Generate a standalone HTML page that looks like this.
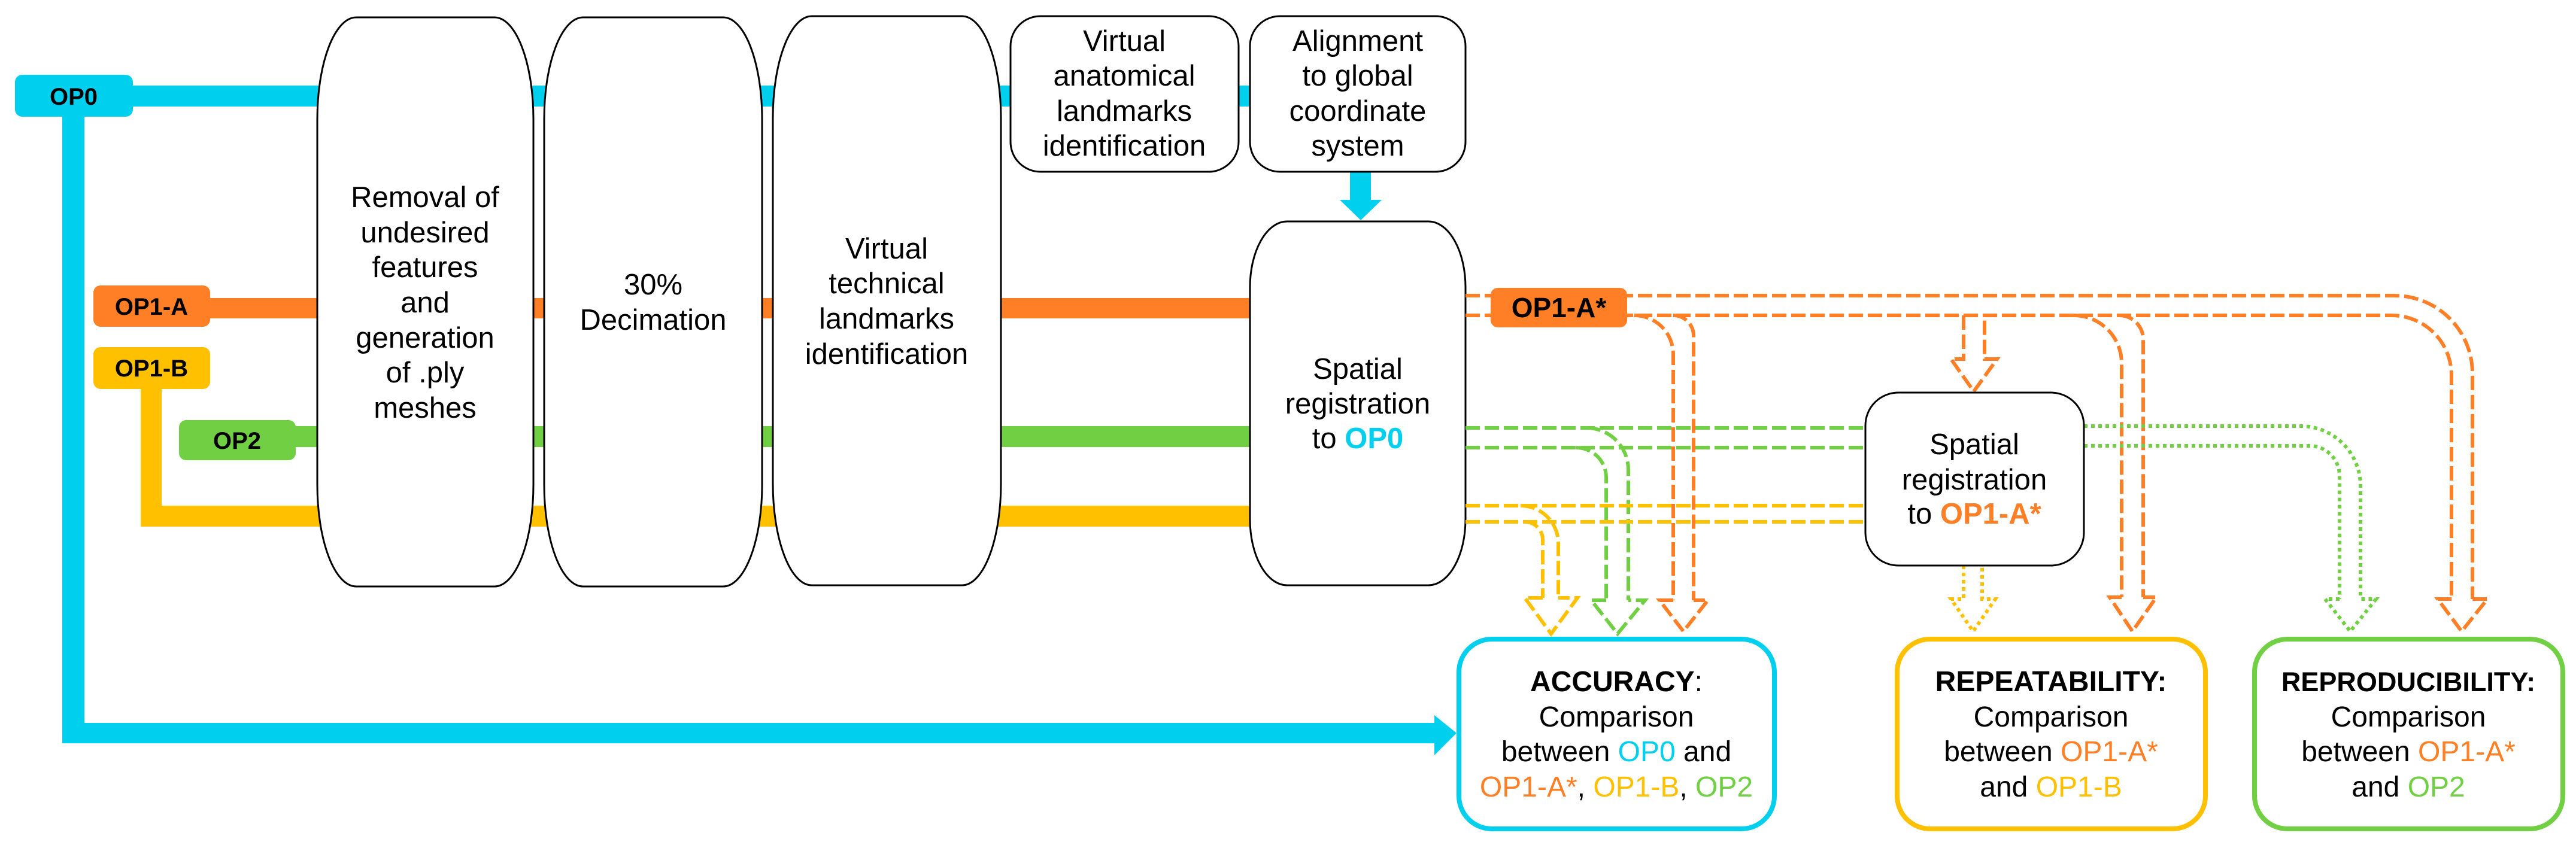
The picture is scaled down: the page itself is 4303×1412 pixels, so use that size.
<!DOCTYPE html>
<html><head><meta charset="utf-8"><style>
html,body{margin:0;padding:0;background:#fff;}
svg{display:block;}
text{font-family:"Liberation Sans",sans-serif;}
</style></head><body>
<svg width="4303" height="1412" viewBox="0 0 4303 1412" xmlns="http://www.w3.org/2000/svg">
<!-- solid thick lines -->
<g>
<rect x="104" y="160" width="37" height="1082" fill="#00D0EE"/>
<rect x="104" y="1208" width="2300" height="34" fill="#00D0EE"/>
<polygon points="2396,1195 2433,1225 2396,1262" fill="#00D0EE"/>
<rect x="200" y="143" width="1888" height="35" fill="#00D0EE"/>
<rect x="300" y="498" width="1788" height="34" fill="#FF7F27"/>
<rect x="235" y="620" width="35" height="260" fill="#FFC000"/>
<rect x="235" y="845" width="1853" height="35" fill="#FFC000"/>
<rect x="450" y="712" width="1638" height="35" fill="#70CF43"/>
<rect x="2255" y="285" width="35" height="55" fill="#00D0EE"/>
<polygon points="2238,334 2308,334 2273,368" fill="#00D0EE"/>
</g>
<!-- labels -->
<rect x="25" y="125" width="197" height="70" rx="12" fill="#00D0EE"/>
<text x="123" y="175" font-size="40" font-weight="bold" text-anchor="middle">OP0</text>
<rect x="156" y="477" width="195" height="69" rx="12" fill="#FF7F27"/>
<text x="253" y="526" font-size="40" font-weight="bold" text-anchor="middle">OP1-A</text>
<rect x="156" y="580" width="195" height="70" rx="12" fill="#FFC000"/>
<text x="253" y="629" font-size="40" font-weight="bold" text-anchor="middle">OP1-B</text>
<rect x="299" y="702" width="195" height="67" rx="12" fill="#70CF43"/>
<text x="396" y="750" font-size="40" font-weight="bold" text-anchor="middle">OP2</text>

<!-- process boxes -->
<g fill="#fff" stroke="#000" stroke-width="3">
<rect x="530" y="29" width="361" height="951" rx="65" ry="170"/>
<rect x="909" y="29" width="364" height="951" rx="65" ry="170"/>
<rect x="1291" y="27" width="381" height="951" rx="65" ry="170"/>
<rect x="1688" y="27" width="381" height="260" rx="50" ry="50"/>
<rect x="2088" y="27" width="360" height="260" rx="50" ry="50"/>
<rect x="2088" y="370" width="360" height="608" rx="62" ry="110"/>
</g>
<g font-size="49" text-anchor="middle">
<text x="710" y="346">Removal of</text>
<text x="710" y="405">undesired</text>
<text x="710" y="463">features</text>
<text x="710" y="522">and</text>
<text x="710" y="581">generation</text>
<text x="710" y="639">of .ply</text>
<text x="710" y="698">meshes</text>
<text x="1091" y="492">30%</text>
<text x="1091" y="551">Decimation</text>
<text x="1481" y="432">Virtual</text>
<text x="1481" y="490">technical</text>
<text x="1481" y="549">landmarks</text>
<text x="1481" y="608">identification</text>
<text x="1878" y="85">Virtual</text>
<text x="1878" y="143">anatomical</text>
<text x="1878" y="202">landmarks</text>
<text x="1878" y="260">identification</text>
<text x="2268" y="85">Alignment</text>
<text x="2268" y="143">to global</text>
<text x="2268" y="202">coordinate</text>
<text x="2268" y="260">system</text>
<text x="2268" y="633">Spatial</text>
<text x="2268" y="691">registration</text>
<text x="2268" y="749">to <tspan fill="#00D0EE" font-weight="bold">OP0</tspan></text>
</g>

<!-- dashed orange -->
<g fill="none" stroke="#FF7F27" stroke-width="6" stroke-dasharray="24 8">
<path d="M2448 494 H4000 A130 130 0 0 1 4130 624 V1001"/>
<path d="M2448 527 H3995 A100 100 0 0 1 4095 627 V1001"/>
<path d="M2730 527 A65 65 0 0 1 2795 592 V1003"/>
<path d="M2795 527 A34 34 0 0 1 2829 561 V1003"/>
<path d="M2795 1003 H2772 L2812 1055 L2853 1003 H2829"/>
<path d="M3280 527 V600 H3259 L3297 654 L3336 600 H3315 V527"/>
<path d="M3464 527 A80 80 0 0 1 3544 607 V998"/>
<path d="M3540 527 A40 40 0 0 1 3580 567 V998"/>
<path d="M3544 998 H3524 L3562 1055 L3602 998 H3580"/>
<path d="M4095 1001 H4072 L4112 1055 L4155 1001 H4130"/>
</g>
<rect x="2490" y="481" width="228" height="66" rx="12" fill="#FF7F27"/>
<text x="2604" y="530" font-size="46" font-weight="bold" text-anchor="middle">OP1-A*</text>

<!-- dashed green -->
<g fill="none" stroke="#70CF43" stroke-width="6" stroke-dasharray="24 8">
<path d="M2448 715 H3116"/>
<path d="M2448 748 H3116"/>
<path d="M2650 715 A70 70 0 0 1 2720 785 V1003"/>
<path d="M2633 748 A50 50 0 0 1 2683 798 V1003"/>
<path d="M2683 1003 H2658 L2702 1059 L2748 1003 H2720"/>
</g>
<!-- dashed yellow -->
<g fill="none" stroke="#FFC000" stroke-width="6" stroke-dasharray="24 8">
<path d="M2448 845 H3116"/>
<path d="M2448 872 H3116"/>
<path d="M2540 845 A63 63 0 0 1 2603 908 V999"/>
<path d="M2547 872 A30 30 0 0 1 2577 902 V999"/>
<path d="M2577 999 H2547 L2591 1059 L2635 999 H2603"/>
</g>
<!-- dotted -->
<g fill="none" stroke="#70CF43" stroke-width="6" stroke-dasharray="6 6">
<path d="M3481 712 H3843 A100 100 0 0 1 3943 812 V1001"/>
<path d="M3481 745 H3858 A50 50 0 0 1 3908 795 V1001"/>
<path d="M3908 1001 H3884 L3926 1055 L3969 1001 H3943"/>
</g>
<g fill="none" stroke="#FFC000" stroke-width="6" stroke-dasharray="6 6">
<path d="M3280 945 V1001 H3259 L3296 1055 L3333 1001 H3311 V945"/>
</g>

<rect x="3116" y="656" width="365" height="289" rx="55" fill="#fff" stroke="#000" stroke-width="3"/>
<g font-size="49" text-anchor="middle">
<text x="3298" y="759">Spatial</text>
<text x="3298" y="818">registration</text>
<text x="3298" y="875">to <tspan fill="#FF7F27" font-weight="bold">OP1-A*</tspan></text>
</g>

<!-- result boxes -->
<rect x="2437" y="1068" width="527" height="317" rx="55" fill="#fff" stroke="#00D0EE" stroke-width="8"/>
<rect x="3169" y="1068" width="515" height="317" rx="55" fill="#fff" stroke="#FFC000" stroke-width="8"/>
<rect x="3766" y="1068" width="515" height="317" rx="55" fill="#fff" stroke="#70CF43" stroke-width="8"/>
<g font-size="48" text-anchor="middle">
<text x="2700" y="1155"><tspan font-weight="bold">ACCURACY</tspan>:</text>
<text x="2700" y="1214">Comparison</text>
<text x="2700" y="1272">between <tspan fill="#00D0EE">OP0</tspan> and</text>
<text x="2700" y="1331"><tspan fill="#FF7F27">OP1-A*</tspan>, <tspan fill="#FFC000">OP1-B</tspan>, <tspan fill="#70CF43">OP2</tspan></text>
<text x="3426" y="1155" font-weight="bold">REPEATABILITY:</text>
<text x="3426" y="1214">Comparison</text>
<text x="3426" y="1272">between <tspan fill="#FF7F27">OP1-A*</tspan></text>
<text x="3426" y="1331">and <tspan fill="#FFC000">OP1-B</tspan></text>
<text x="4023" y="1155" font-weight="bold" font-size="45">REPRODUCIBILITY:</text>
<text x="4023" y="1214">Comparison</text>
<text x="4023" y="1272">between <tspan fill="#FF7F27">OP1-A*</tspan></text>
<text x="4023" y="1331">and <tspan fill="#70CF43">OP2</tspan></text>
</g>
</svg>
</body></html>
